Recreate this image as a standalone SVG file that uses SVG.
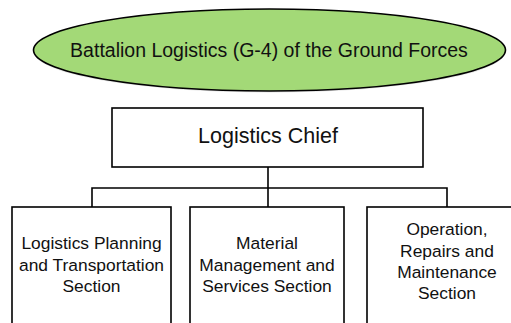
<svg xmlns="http://www.w3.org/2000/svg" width="511" height="323" viewBox="0 0 511 323">
<style>
.box{fill:#ffffff;stroke:#000000;stroke-width:1.6}
.t{font-family:"Liberation Sans",Arial,sans-serif;fill:#111111;text-anchor:middle}
.s{font-size:17.4px}
.ln{fill:none;stroke:#000000;stroke-width:1.6}
</style>
<rect width="511" height="323" fill="#ffffff"/>
<g id="top">
<ellipse cx="269.5" cy="51.5" rx="236" ry="41" fill="#cccccc" opacity="0.5"/>
<ellipse cx="269.5" cy="50" rx="236" ry="41" fill="#a3d977" stroke="#000000" stroke-width="1.6"/>
<text class="t" x="269" y="57" font-size="19.5">Battalion Logistics (G-4) of the Ground Forces</text>
</g>
<g id="chief">
<rect class="box" x="112" y="108" width="311" height="59"/>
<text class="t" x="268" y="143" font-size="21.5">Logistics Chief</text>
</g>
<g id="connectors">
<path class="ln" d="M268 167 V188 M92 207 V188 H447 V207 M268 188 V207"/>
</g>
<g id="sec1">
<rect class="box" x="12" y="207" width="159" height="130"/>
<text class="t s" x="91.5" y="249">Logistics Planning</text>
<text class="t s" x="91.5" y="271">and Transportation</text>
<text class="t s" x="91.5" y="292">Section</text>
</g>
<g id="sec2">
<rect class="box" x="190" y="207" width="154" height="130"/>
<text class="t s" x="267" y="249">Material</text>
<text class="t s" x="267" y="271">Management and</text>
<text class="t s" x="267" y="292">Services Section</text>
</g>
<g id="sec3">
<rect class="box" x="367" y="207" width="160" height="130"/>
<text class="t s" x="447" y="235">Operation,</text>
<text class="t s" x="447" y="257">Repairs and</text>
<text class="t s" x="447" y="278">Maintenance</text>
<text class="t s" x="447" y="299">Section</text>
</g>
</svg>
